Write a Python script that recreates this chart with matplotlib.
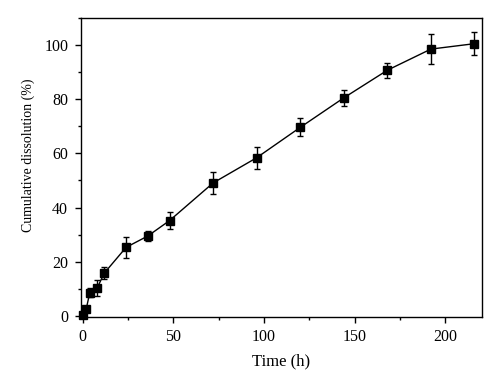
import numpy as np
import matplotlib.pyplot as plt
from matplotlib.ticker import MultipleLocator

plt.rcParams['font.family'] = ['Liberation Serif', 'DejaVu Serif']

# release data
time_h = [0, 2, 4, 8, 12, 24, 36, 48, 72, 96, 120, 144, 168, 192, 216]
dissolution = [0.3, 2.4, 8.6, 10.2, 15.8, 25.3, 29.5, 35.2, 49.1, 58.4, 69.6, 80.5, 90.7, 98.5, 100.5]
err = [0.5, 1.0, 1.8, 2.9, 2.1, 4.0, 2.0, 3.0, 4.2, 4.0, 3.3, 3.0, 2.8, 5.4, 4.2]

fig = plt.figure(figsize=(5, 3.86), dpi=100)
ax = fig.add_axes([0.1614, 0.1795, 0.802, 0.774])

ax.errorbar(time_h, dissolution, yerr=err, fmt='-s', color='black',
            markersize=6, linewidth=1, elinewidth=1, capsize=2.5,
            capthick=1, clip_on=False, zorder=3)

ax.set_xlim(-1, 220)
ax.set_ylim(-0.3, 110)
ax.xaxis.set_major_locator(MultipleLocator(50))
ax.xaxis.set_minor_locator(MultipleLocator(25))
ax.yaxis.set_major_locator(MultipleLocator(20))
ax.yaxis.set_minor_locator(MultipleLocator(10))
ax.tick_params(which='major', direction='out', length=4, width=1, labelsize=11.5)
ax.tick_params(axis='y', which='major', pad=5)
ax.tick_params(axis='x', which='major', pad=5)
ax.tick_params(which='minor', direction='out', length=2.5, width=1)
for s in ax.spines.values():
    s.set_linewidth(1)

ax.set_xlabel('Time (h)', fontsize=12, labelpad=6)
ax.set_ylabel('Cumulative dissolution (%)', fontsize=10)
ax.yaxis.set_label_coords(-0.115, 0.54)

fig.savefig('out.png', dpi=100)
